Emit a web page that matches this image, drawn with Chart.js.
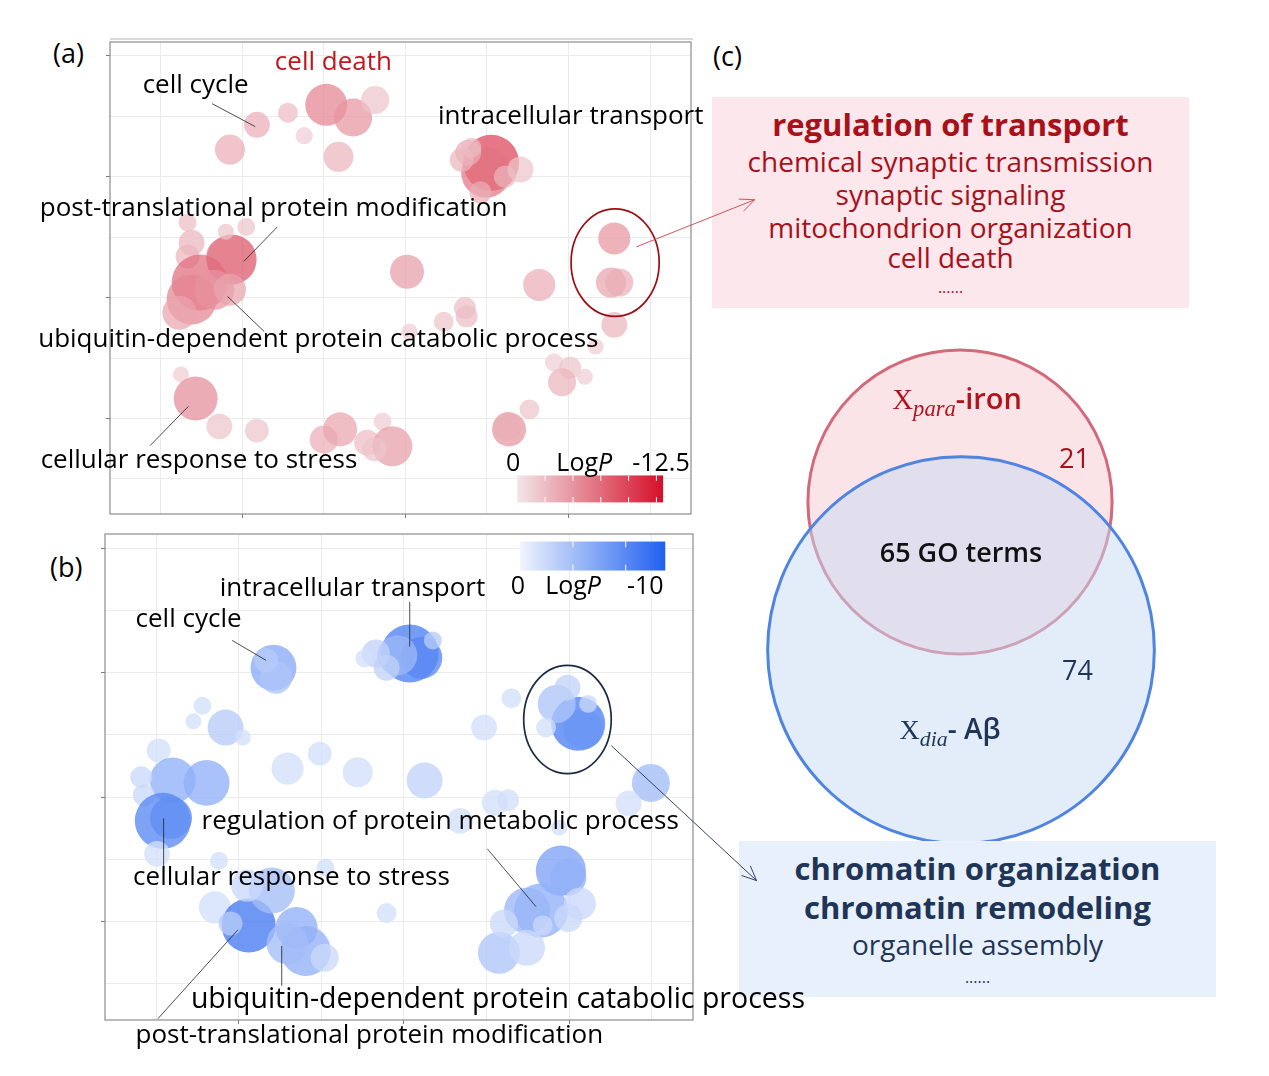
<!DOCTYPE html>
<html lang="en">
<head>
<meta charset="UTF-8">
<title>GO terms in semantic space</title>
<script src="https://cdn.jsdelivr.net/npm/chart.js@4.4.2/dist/chart.umd.min.js"></script>
<style>
  body { margin: 0; background: #fff; width: 1269px; height: 1076px; position: relative; overflow: hidden;
         font-family: 'Open Sans', 'Noto Sans', sans-serif; color: #000; }
  .wrap { position: absolute; z-index: 2; }
  .note { position: absolute; z-index: 3; white-space: nowrap; line-height: 1; transform: translateY(-56%); }
  .note.c { transform: translate(-50%, -56%); }
  .tag { position: absolute; font-size: 27px; line-height: 1; transform: translateY(-56%); }
  .box { position: absolute; z-index: 1; }
  .box div { position: absolute; left: 0; right: 0; text-align: center; white-space: nowrap; line-height: 1; transform: translateY(-56%); }
  .m { font-family: 'Liberation Serif', 'DejaVu Serif', serif; font-weight: 400; }
  .m sub { font-style: italic; font-size: 0.78em; vertical-align: -0.32em; }
</style>
</head>
<body>
<div class="tag" style="left:53px;top:54px">(a)</div>
<div class="tag" style="left:50px;top:568px">(b)</div>
<div class="tag" style="left:713px;top:57px">(c)</div>

<div class="box" style="left:712px;top:97px;width:477px;height:211px;background:#fce8ec;color:#a8111a">
  <div style="top:29px;font-size:31px;font-weight:700">regulation of transport</div>
  <div style="top:66px;font-size:28px">chemical synaptic transmission</div>
  <div style="top:99px;font-size:28px">synaptic signaling</div>
  <div style="top:132px;font-size:28px">mitochondrion organization</div>
  <div style="top:162px;font-size:28px">cell death</div>
  <div style="top:191px;font-size:16px">......</div>
</div>

<div class="wrap" id="wrapC" style="left:740px;top:330px;width:440px;height:530px;z-index:0"><canvas id="chartC"></canvas></div>
<div class="note c" style="left:957px;top:404px;font-size:29px;font-weight:600;color:#b0141c"><span class="m">X<sub>para</sub></span>-iron</div>
<div class="note" style="left:1059px;top:459px;font-size:27px;color:#a8111a">21</div>
<div class="note c" style="left:961px;top:553px;font-size:27px;font-weight:600;color:#111">65 GO terms</div>
<div class="note" style="left:1062px;top:671px;font-size:27px;color:#1f3558">74</div>
<div class="note c" style="left:950px;top:735px;font-size:28px;font-weight:600;color:#1f3558"><span class="m">X<sub>dia</sub></span>- Aβ</div>

<div class="box" style="left:739px;top:841px;width:477px;height:156px;background:#e8f0fb;color:#1f3558">
  <div style="top:29px;font-size:31px;font-weight:700">chromatin organization</div>
  <div style="top:68px;font-size:31px;font-weight:700">chromatin remodeling</div>
  <div style="top:105px;font-size:28px">organelle assembly</div>
  <div style="top:137px;font-size:16px">......</div>
</div>

<div class="wrap" id="wrapA" style="left:0;top:0;width:770px;height:525px"><canvas id="chartA"></canvas></div>
<div class="wrap" id="wrapB" style="left:0;top:525px;width:830px;height:551px"><canvas id="chartB"></canvas></div>

<script>
// (a) Xpara-iron terms: semantic x/y, log10 term size, log10 p
const xA = [-2.15, -1.82, -1.44, -1.24, -0.97, -0.64, -0.37, -0.82,
            1.05, 0.99, 0.77, 0.69, 1.22, 1.41, 0.92, 0.81,
            -2.13, -2.22, -2.62, -2.67, -1.95, -2.20, -2.67, -2.52, -2.62, -2.77, -2.34, -2.15,
            0.02, 1.64, 0.73, 0.75, 0.47, 0.05,
            2.56, 2.52, 2.62, 2.56, 2.33,
            1.82, 2.02, 1.92, 2.20, 1.52, 1.27, 1.25,
            -2.75, -2.57, -2.28, -1.82,
            -1.00, -0.80, -0.47, -0.28, -0.16, -0.38];
const yA = [4.45, 4.86, 5.06, 4.68, 5.19, 4.98, 5.27, 4.33,
            4.23, 4.07, 4.40, 4.28, 4.00, 4.12, 3.74, 4.48,
            2.63, 2.69, 2.91, 3.24, 3.17, 3.09, 2.68, 2.25, 1.97, 1.75, 2.13, 2.13,
            2.43, 2.21, 1.83, 1.69, 1.60, 1.44,
            2.98, 2.25, 2.25, 1.55, 1.19,
            0.93, 0.84, 0.60, 0.69, 0.15, -0.18, -0.13,
            0.73, 0.33, -0.13, -0.20,
            -0.35, -0.18, -0.40, -0.05, -0.46, -0.51];
const sizeA = [1.64, 1.45, 1.18, 1.05, 2.18, 2.00, 1.55, 1.64,
               2.82, 2.55, 1.45, 1.36, 1.27, 1.45, 1.27, 1.18,
               2.55, 1.91, 1.45, 1.09, 1.09, 1.00, 1.36, 2.82, 2.55, 1.82, 2.09, 1.73,
               1.82, 1.73, 1.27, 1.27, 1.18, 1.00,
               1.73, 1.64, 1.55, 1.45, 1.00,
               1.09, 1.27, 1.55, 1.00, 1.18, 1.82, 1.55,
               1.00, 2.27, 1.45, 1.36,
               1.55, 1.82, 1.45, 1.09, 2.09, 1.36];
const logPA = [-3.5, -3.5, -2.5, -1.5, -6, -5, -2, -3,
               -10, -7, -3.5, -3, -3, -2, -3.5, -2.5,
               -9, -6, -3, -2.5, -2, -2, -3, -7.5, -6, -4, -5, -4,
               -4.5, -3.5, -2.5, -2.5, -2, -1.5,
               -5, -4, -3.5, -3, -1.5,
               -1.5, -2, -3, -1.5, -2, -5, -3.5,
               -1.5, -5.5, -2, -2,
               -3.5, -4, -2.5, -1.5, -4.5, -2];

// (b) Xdia-Abeta terms
const xB = [-1.58, -1.55, -1.67,
            0.07, 0.21, -0.08, -0.34, -0.48, -0.21, 0.35,
            -2.44, -2.55, -2.16, -1.95,
            1.30, 0.97,
            2.11, 2.17, 1.85, 1.98, 1.72, 2.23,
            -2.97, -2.80, -2.39, -3.18, -3.15, -2.92, -2.82, -2.99, -2.24, -1.41, -1.02, -0.56, 0.25,
            2.99, 3.02, 2.72, 1.10, 1.26, 0.68, 1.88, -0.95,
            1.90, 1.99, 1.66, 1.49, 2.13, 1.99, 1.68, 1.15, 1.49, 1.21,
            -2.29, -1.88, -2.10, -1.60, -1.90, -1.30, -1.19, -1.41, -0.96, -0.21];
const yB = [4.08, 3.92, 4.20,
            4.31, 4.24, 4.28, 4.31, 4.23, 4.08, 4.52,
            3.47, 3.22, 3.12, 2.96,
            3.59, 3.12,
            3.18, 3.10, 3.50, 3.76, 3.12, 3.50,
            2.75, 2.27, 2.23, 2.32, 2.03, 1.62, 1.67, 1.09, 0.98, 2.46, 2.70, 2.40, 2.27,
            2.23, 2.27, 1.90, 1.91, 1.95, 1.62, 1.51, 0.87,
            0.82, 0.71, 0.18, 0.18, 0.29, 0.06, -0.06, -0.50, -0.42, -0.03,
            0.23, -0.06, -0.03, 0.50, 0.58, -0.10, -0.47, -0.35, -0.58, 0.14];
const sizeB = [2.36, 1.73, 1.36,
               2.91, 2.18, 2.09, 1.55, 1.09, 1.45, 1.09,
               1.09, 1.00, 1.91, 1.00,
               1.18, 1.45,
               2.73, 2.09, 2.00, 1.45, 1.18, 1.09,
               1.36, 2.36, 2.36, 1.27, 1.27, 2.82, 2.18, 1.45, 1.09, 1.73, 1.36, 1.64, 1.91,
               2.00, 1.64, 1.45, 1.45, 1.27, 1.45, 1.00, 1.09,
               2.55, 1.91, 2.73, 2.36, 1.73, 1.55, 1.18, 2.18, 1.91, 1.55,
               1.73, 2.73, 1.36, 2.36, 1.73, 2.18, 2.55, 2.18, 1.55, 1.18];
const logPB = [-5.5, -3.5, -3,
               -8.5, -8, -4.5, -2.5, -1.5, -2.5, -3,
               -1.5, -1.5, -3, -1.5,
               -1.5, -1.5,
               -8.5, -7, -3.5, -2.5, -1.5, -2,
               -1.5, -5, -5, -2, -2, -8, -7.5, -1.5, -1.5, -1.5, -1.5, -1.5, -2.5,
               -4, -3, -1.5, -1.5, -1.5, -1.5, -1.5, -1.5,
               -6, -5, -5, -4.5, -2, -2, -2, -3.5, -2, -2,
               -1.5, -9, -3, -4, -2, -5, -5, -4, -2, -1.5];

// axes
const xTicks = [-3, -2, -1, 0, 1, 2, 3];
const yTicks = [-1, 0, 1, 2, 3, 4, 5, 6];
const majorTicks = [-2, 0, 2, 4, 6];
const xRange = [-3.62, 3.5];
const yRange = [-1.58, 6.23];

// colour bars
const barA = { max: -13.1, ticks: [-2.5, -5, -7.5, -10, -12.5], low: [242, 230, 232], high: [212, 16, 42] };
const barB = { max: -11, ticks: [-4, -8], low: [240, 244, 252], high: [32, 96, 240] };

// venn
const vennOnly = [21, 74];
const vennShared = 65;
const vennX = [2.20, 2.21];
const vennY = [3.58, 2.10];

function bubbleRadius(s) { return (s - 1) * 11 + 8; }

function shade(v, bar, alpha) {
  const t = Math.max(0, Math.min(1, v / bar.max));
  const c = bar.low.map((l, i) => Math.round(l + (bar.high[i] - l) * t));
  return 'rgba(' + c.join(',') + ',' + alpha + ')';
}

function axis(range, ticks) {
  return {
    type: 'linear', min: range[0], max: range[1],
    afterBuildTicks: s => { s.ticks = ticks.map(v => ({ value: v })); },
    ticks: { display: false },
    border: { display: false },
    grid: {
      color: '#ebebeb', lineWidth: 1, drawTicks: true, tickLength: 4, tickWidth: 1,
      tickColor: c => (c.tick && majorTicks.includes(c.tick.value)) ? '#7a7a7a' : 'rgba(0,0,0,0)'
    }
  };
}

function overlayFor(cfg) {
  return {
    id: 'overlay',
    afterDatasetsDraw(chart) {
      const { ctx, chartArea: a, scales: { x, y } } = chart;
      const px = v => x.getPixelForValue(v), py = v => y.getPixelForValue(v);
      ctx.save();
      // frame
      ctx.strokeStyle = '#8c8c8c'; ctx.lineWidth = 1.2;
      ctx.strokeRect(a.left, a.top, a.right - a.left, a.bottom - a.top);
      if (cfg.topLine) {
        ctx.strokeStyle = '#b4b4b4';
        ctx.beginPath(); ctx.moveTo(a.left, a.top - 3); ctx.lineTo(a.right + 2, a.top - 3); ctx.stroke();
      }
      // leader lines
      ctx.strokeStyle = '#222'; ctx.lineWidth = 0.8;
      cfg.leaders.forEach(l => {
        ctx.beginPath(); ctx.moveTo(px(l[0]), py(l[1])); ctx.lineTo(px(l[2]), py(l[3])); ctx.stroke();
      });
      // ring round the highlighted cluster
      const r = cfg.ring;
      ctx.strokeStyle = r.color; ctx.lineWidth = 1.7;
      ctx.beginPath();
      ctx.ellipse(px(r.x), py(r.y), Math.abs(px(r.x + r.rx) - px(r.x)), Math.abs(py(r.y + r.ry) - py(r.y)), 0, 0, 2 * Math.PI);
      ctx.stroke();
      // arrow to the term box
      const w = cfg.arrow;
      const x1 = px(w.from[0]), y1 = py(w.from[1]), x2 = px(w.to[0]), y2 = py(w.to[1]);
      const ang = Math.atan2(y2 - y1, x2 - x1);
      ctx.strokeStyle = w.color; ctx.lineWidth = 0.9;
      ctx.beginPath(); ctx.moveTo(x1, y1); ctx.lineTo(x2, y2);
      ctx.moveTo(x2 - 16 * Math.cos(ang - 0.42), y2 - 16 * Math.sin(ang - 0.42));
      ctx.lineTo(x2, y2);
      ctx.lineTo(x2 - 16 * Math.cos(ang + 0.42), y2 - 16 * Math.sin(ang + 0.42));
      ctx.stroke();
      // colour bar
      const b = cfg.bar, bx1 = px(b.x[0]), bx2 = px(b.x[1]), by1 = py(b.y[0]), by2 = py(b.y[1]);
      const g = ctx.createLinearGradient(bx1, 0, bx2, 0);
      g.addColorStop(0, 'rgb(' + b.scale.low.join(',') + ')');
      g.addColorStop(1, 'rgb(' + b.scale.high.join(',') + ')');
      ctx.fillStyle = g;
      ctx.fillRect(bx1, by1, bx2 - bx1, by2 - by1);
      ctx.strokeStyle = '#fff'; ctx.lineWidth = 1;
      const h = (by2 - by1) / 5;
      b.scale.ticks.forEach(t => {
        const tx = bx1 + (bx2 - bx1) * t / b.scale.max;
        ctx.beginPath();
        ctx.moveTo(tx, by1); ctx.lineTo(tx, by1 + h);
        ctx.moveTo(tx, by2); ctx.lineTo(tx, by2 - h);
        ctx.stroke();
      });
      ctx.restore();
    }
  };
}

function makePanel(id, xs, ys, sizes, logPs, bar, alpha, pad, cfg) {
  const data = xs.map((v, i) => ({ x: v, y: ys[i], r: bubbleRadius(sizes[i]) }));
  return new Chart(document.getElementById(id), {
    type: 'bubble',
    data: { datasets: [{ data: data, backgroundColor: logPs.map(v => shade(v, bar, alpha)), borderWidth: 0 }] },
    options: {
      responsive: true, maintainAspectRatio: false, animation: false, events: [],
      layout: { padding: pad, autoPadding: false },
      scales: { x: axis(xRange, xTicks), y: axis(yRange, yTicks) },
      plugins: { legend: { display: false }, tooltip: { enabled: false } }
    },
    plugins: [overlayFor(cfg)]
  });
}

function placeNotes(chart, wrap, notes) {
  const { x, y } = chart.scales;
  notes.forEach(n => {
    const d = document.createElement('div');
    d.className = 'note' + (n.c ? ' c' : '');
    d.innerHTML = n.t;
    d.style.left = (wrap.offsetLeft + x.getPixelForValue(n.x)) + 'px';
    d.style.top = (wrap.offsetTop + y.getPixelForValue(n.y)) + 'px';
    d.style.fontSize = (n.s || 26) + 'px';
    if (n.col) d.style.color = n.col;
    document.body.appendChild(d);
  });
}

const chartA = makePanel('chartA', xA, yA, sizeA, logPA, barA, 0.72,
  { left: 106, top: 42, right: 79, bottom: 7 },
  {
    topLine: true,
    leaders: [[-2.37, 5.21, -1.84, 4.83], [-1.57, 3.17, -1.98, 2.60], [-2.18, 2.02, -1.73, 1.44], [-3.13, -0.45, -2.66, 0.20]],
    ring: { x: 2.57, y: 2.58, rx: 0.54, ry: 0.89, color: '#9c0c12' },
    arrow: { from: [2.83, 2.84], to: [4.28, 3.62], color: '#c8404c' },
    bar: { x: [1.371, 3.158], y: [-0.942, -1.388], scale: barA }
  });
placeNotes(chartA, document.getElementById('wrapA'), [
  { t: 'cell cycle', x: -3.22, y: 5.52 },
  { t: 'cell death', x: -1.60, y: 5.90, col: '#c0161e' },
  { t: 'intracellular transport', x: 0.40, y: 5.01 },
  { t: 'post-translational protein modification', x: -4.48, y: 3.49 },
  { t: 'ubiquitin-dependent protein catabolic process', x: -4.50, y: 1.32 },
  { t: 'cellular response to stress', x: -4.47, y: -0.68 },
  { t: '0', x: 1.32, y: -0.74, c: true, s: 25 },
  { t: 'Log<i>P</i>', x: 1.85, y: -0.74, s: 25 },
  { t: '-12.5', x: 2.78, y: -0.74, s: 25 }
]);

const chartB = makePanel('chartB', xB, yB, sizeB, logPB, barB, 0.78,
  { left: 101, top: 9, right: 137, bottom: 52 },
  {
    topLine: false,
    leaders: [[0.07, 5.14, 0.07, 4.42], [-2.08, 4.52, -1.67, 4.20], [1.01, 1.17, 1.60, 0.24],
              [-2.91, 1.66, -2.91, 0.82], [-1.48, -0.39, -1.48, -1.03], [-2.98, -1.56, -2.01, -0.13]],
    ring: { x: 1.98, y: 3.25, rx: 0.53, ry: 0.87, color: '#1c2a48' },
    arrow: { from: [2.51, 2.83], to: [4.27, 0.66], color: '#1f3050' },
    bar: { x: [1.406, 3.164], y: [6.109, 5.643], scale: barB }
  });
placeNotes(chartB, document.getElementById('wrapB'), [
  { t: 'intracellular transport', x: -2.23, y: 5.37 },
  { t: 'cell cycle', x: -3.25, y: 4.86 },
  { t: 'regulation of protein metabolic process', x: -2.45, y: 1.61 },
  { t: 'cellular response to stress', x: -3.28, y: 0.72 },
  { t: 'ubiquitin-dependent protein catabolic process', x: -2.58, y: -1.25, s: 28.5 },
  { t: 'post-translational protein modification', x: -3.25, y: -1.82 },
  { t: '0', x: 1.38, y: 5.39, c: true, s: 25 },
  { t: 'Log<i>P</i>', x: 1.71, y: 5.39, s: 25 },
  { t: '-10', x: 2.70, y: 5.39, s: 25 }
]);

// Venn: circle area follows the number of terms in each set
new Chart(document.getElementById('chartC'), {
  type: 'bubble',
  data: {
    datasets: [{
      data: vennX.map((v, i) => ({ x: v, y: vennY[i], r: 16.4 * Math.sqrt(vennOnly[i] + vennShared) })),
      backgroundColor: ['#fbe4e8', 'rgba(199,217,243,0.5)'],
      borderColor: ['#d26a7a', '#4f84e2'],
      borderWidth: 3,
      clip: false
    }]
  },
  options: {
    responsive: true, maintainAspectRatio: false, animation: false, events: [],
    layout: { padding: 0, autoPadding: false },
    scales: { x: { display: false, min: 0, max: 4.4 }, y: { display: false, min: 0, max: 5.3 } },
    plugins: { legend: { display: false }, tooltip: { enabled: false } }
  }
});
</script>
</body>
</html>
